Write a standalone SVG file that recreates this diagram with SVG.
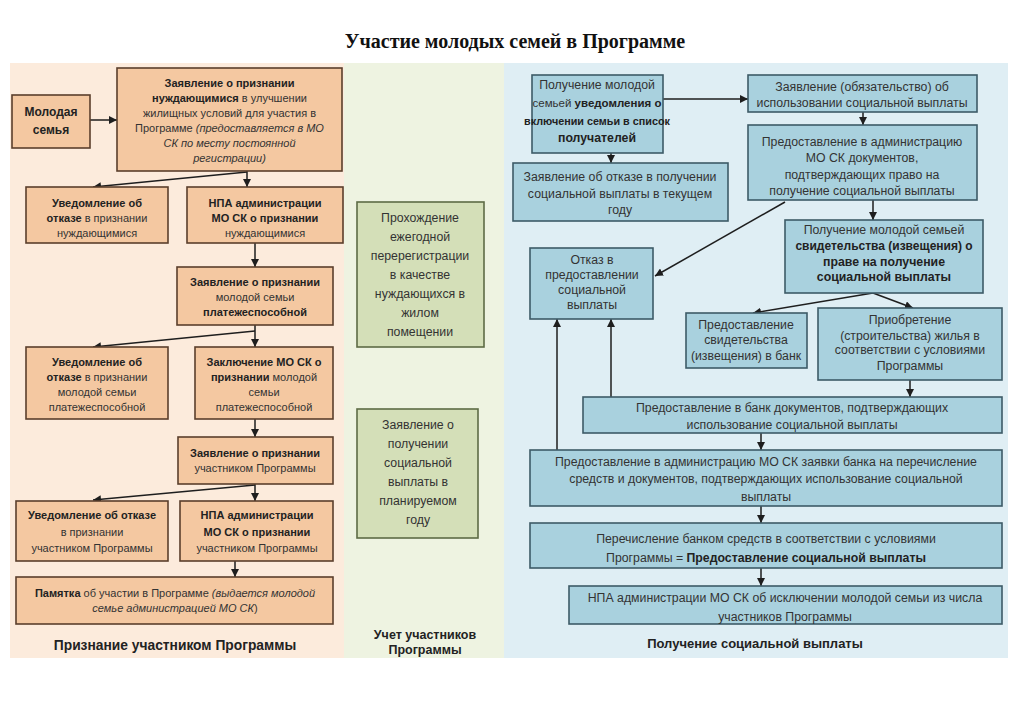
<svg xmlns="http://www.w3.org/2000/svg" width="1024" height="704" viewBox="0 0 1024 704">
<defs>
<marker id="ah" viewBox="0 0 10 10" refX="10" refY="5" markerWidth="8" markerHeight="8" markerUnits="userSpaceOnUse" orient="auto">
<path d="M0,0 L10,5 L0,10 z" fill="#1e1e1e"/>
</marker>
<style>
.t{font-family:"Liberation Sans",Arial,sans-serif;fill:#333;text-anchor:middle}
.l{font-size:11px}
.r{font-size:12.3px}
.g{font-size:12.3px}
.b{font-weight:bold;fill:#222}
.i{font-style:italic}
.pb{fill:#f4c8a1;stroke:#5a3f2c;stroke-width:1.6}
.gb{fill:#d4dfb8;stroke:#5d6b45;stroke-width:1.6}
.bb{fill:#a9d1de;stroke:#3d5b67;stroke-width:1.6}
.c{fill:none;stroke:#1e1e1e;stroke-width:1.5;marker-end:url(#ah)}
.h{font-size:13px;font-weight:bold;fill:#222}
</style>
</defs>
<rect width="1024" height="704" fill="#ffffff"/>
<text x="515" y="48" style="font-family:'Liberation Serif','Times New Roman',serif;font-size:20px;font-weight:bold;text-anchor:middle;fill:#111">Участие молодых семей в Программе</text>

<rect x="10" y="63" width="334" height="595" fill="#fcebdc"/>
<rect x="344" y="63" width="160" height="595" fill="#eef3e1"/>
<rect x="504" y="63" width="504" height="595" fill="#dfeef4"/>

<g id="connectors">
<path class="c" d="M90,120 L117,120"/>
<path class="c" d="M247,171 L247,187"/>
<path class="c" d="M247,172 L93,187"/>
<path class="c" d="M255,243 L255,267"/>
<path class="c" d="M255,325 L255,347"/>
<path class="c" d="M255,331 L93,347"/>
<path class="c" d="M255,419 L255,437"/>
<path class="c" d="M255,484 L255,501"/>
<path class="c" d="M255,485 L93,500"/>
<path class="c" d="M235,561 L235,577"/>
<path class="c" d="M663,99 L748,99"/>
<path class="c" d="M611,153 L611,163"/>
<path class="c" d="M863,112 L863,125"/>
<path class="c" d="M873,200 L873,220"/>
<path class="c" d="M785,202 L655,276"/>
<path class="c" d="M873,293 L753,313"/>
<path class="c" d="M873,293 L913,308"/>
<path class="c" d="M910,380 L910,397"/>
<path class="c" d="M557,450 L557,319"/>
<path class="c" d="M611,397 L611,319"/>
<path class="c" d="M761,433 L761,450"/>
<path class="c" d="M761,506 L761,523"/>
<path class="c" d="M761,568 L761,586"/>
</g>

<g id="n_family">
<rect class="pb" x="12" y="95" width="78" height="53"/>
<text class="t l b" style="font-size:12px"><tspan x="51" y="116">Молодая</tspan><tspan x="51" y="134">семья</tspan></text>
</g>
<g id="n_zayav1">
<rect class="pb" x="117" y="68" width="225" height="103"/>
<text class="t l"><tspan x="229.5" y="87" class="b">Заявление о признании</tspan><tspan x="229.5" y="102"><tspan class="b">нуждающимися</tspan> в улучшении</tspan><tspan x="229.5" y="117">жилищных условий для участия в</tspan><tspan x="229.5" y="132">Программе <tspan class="i">(предоставляется в МО</tspan></tspan><tspan x="229.5" y="147" class="i">СК по месту постоянной</tspan><tspan x="229.5" y="162" class="i">регистрации)</tspan></text>
</g>
<g id="n_otkaz1">
<rect class="pb" x="26" y="187" width="142" height="56"/>
<text class="t l"><tspan x="97" y="207" class="b">Уведомление об</tspan><tspan x="97" y="222"><tspan class="b">отказе</tspan> в признании</tspan><tspan x="97" y="237">нуждающимися</tspan></text>
</g>
<g id="n_npa1">
<rect class="pb" x="187" y="187" width="156" height="56"/>
<text class="t l"><tspan x="265" y="207" class="b">НПА администрации</tspan><tspan x="265" y="222" class="b">МО СК о признании</tspan><tspan x="265" y="237">нуждающимися</tspan></text>
</g>
<g id="n_zayav2">
<rect class="pb" x="177" y="267" width="156" height="58"/>
<text class="t l"><tspan x="255" y="286" class="b">Заявление о признании</tspan><tspan x="255" y="301">молодой семьи</tspan><tspan x="255" y="316" class="b">платежеспособной</tspan></text>
</g>
<g id="n_otkaz2">
<rect class="pb" x="26" y="347" width="142" height="72"/>
<text class="t l"><tspan x="97" y="366" class="b">Уведомление об</tspan><tspan x="97" y="381"><tspan class="b">отказе</tspan> в признании</tspan><tspan x="97" y="396">молодой семьи</tspan><tspan x="97" y="411">платежеспособной</tspan></text>
</g>
<g id="n_zakl">
<rect class="pb" x="195" y="347" width="138" height="72"/>
<text class="t l"><tspan x="264" y="366" class="b">Заключение МО СК о</tspan><tspan x="264" y="381"><tspan class="b">признании</tspan> молодой</tspan><tspan x="264" y="396">семьи</tspan><tspan x="264" y="411">платежеспособной</tspan></text>
</g>
<g id="n_zayav3">
<rect class="pb" x="178" y="437" width="155" height="47"/>
<text class="t l"><tspan x="255" y="457" class="b">Заявление о признании</tspan><tspan x="255" y="472">участником Программы</tspan></text>
</g>
<g id="n_otkaz3">
<rect class="pb" x="16" y="501" width="152" height="60"/>
<text class="t l"><tspan x="92" y="519" class="b">Уведомление об отказе</tspan><tspan x="92" y="536">в признании</tspan><tspan x="92" y="552">участником Программы</tspan></text>
</g>
<g id="n_npa3">
<rect class="pb" x="180" y="501" width="153" height="60"/>
<text class="t l"><tspan x="257" y="519" class="b">НПА администрации</tspan><tspan x="257" y="536" class="b">МО СК о признании</tspan><tspan x="257" y="552">участником Программы</tspan></text>
</g>
<g id="n_pamyatka">
<rect class="pb" x="16" y="577" width="317" height="47"/>
<text class="t l"><tspan x="175" y="597"><tspan class="b">Памятка</tspan> об участии в Программе <tspan class="i">(выдается молодой</tspan></tspan><tspan x="175" y="612"><tspan class="i">семье администрацией МО СК</tspan>)</tspan></text>
</g>
<text class="t h" x="175" y="650" style="font-size:13.8px">Признание участником Программы</text>

<g id="n_pereg">
<rect class="gb" x="357" y="202" width="127" height="145"/>
<text class="t g"><tspan x="420" y="222">Прохождение</tspan><tspan x="420" y="241">ежегодной</tspan><tspan x="420" y="260">перерегистрации</tspan><tspan x="420" y="279">в качестве</tspan><tspan x="420" y="298">нуждающихся в</tspan><tspan x="420" y="317">жилом</tspan><tspan x="420" y="336">помещении</tspan></text>
</g>
<g id="n_plan">
<rect class="gb" x="357" y="409" width="121" height="129"/>
<text class="t g"><tspan x="418" y="429">Заявление о</tspan><tspan x="418" y="448">получении</tspan><tspan x="418" y="467">социальной</tspan><tspan x="418" y="486">выплаты в</tspan><tspan x="418" y="505">планируемом</tspan><tspan x="418" y="524">году</tspan></text>
</g>
<text class="t h" style="font-size:12.5px"><tspan x="425" y="639">Учет участников</tspan><tspan x="425" y="654">Программы</tspan></text>

<g id="n_uved">
<rect class="bb" x="532" y="75" width="131" height="78"/>
<text class="t r"><tspan x="597" y="89">Получение молодой</tspan><tspan x="597" y="107" style="font-size:11.5px">семьей <tspan class="b">уведомления о</tspan></tspan><tspan x="597" y="125" class="b" style="font-size:10.8px">включении семьи в список</tspan><tspan x="597" y="142" class="b">получателей</tspan></text>
</g>
<g id="n_obyaz">
<rect class="bb" x="748" y="75" width="229" height="37"/>
<text class="t r"><tspan x="862" y="91">Заявление (обязательство) об</tspan><tspan x="862" y="107">использовании социальной выплаты</tspan></text>
</g>
<g id="n_otkaz_tek">
<rect class="bb" x="513" y="163" width="215" height="58"/>
<text class="t r"><tspan x="620" y="181">Заявление об отказе в получении</tspan><tspan x="620" y="198">социальной выплаты в текущем</tspan><tspan x="620" y="214">году</tspan></text>
</g>
<g id="n_docs">
<rect class="bb" x="748" y="125" width="229" height="75"/>
<text class="t r"><tspan x="862" y="146">Предоставление в администрацию</tspan><tspan x="862" y="162">МО СК документов,</tspan><tspan x="862" y="179">подтверждающих право на</tspan><tspan x="862" y="195">получение социальной выплаты</tspan></text>
</g>
<g id="n_svid">
<rect class="bb" x="785" y="220" width="198" height="73"/>
<text class="t r"><tspan x="884" y="234">Получение молодой семьей</tspan><tspan x="884" y="250" class="b" style="font-size:12px">свидетельства (извещения) о</tspan><tspan x="884" y="266" class="b">праве на получение</tspan><tspan x="884" y="281" class="b">социальной выплаты</tspan></text>
</g>
<g id="n_otkaz_pred">
<rect class="bb" x="530" y="248" width="123" height="71"/>
<text class="t r"><tspan x="592" y="264">Отказ в</tspan><tspan x="592" y="279">предоставлении</tspan><tspan x="592" y="294">социальной</tspan><tspan x="592" y="309">выплаты</tspan></text>
</g>
<g id="n_bank_svid">
<rect class="bb" x="686" y="313" width="121" height="55"/>
<text class="t r"><tspan x="746" y="329">Предоставление</tspan><tspan x="746" y="344">свидетельства</tspan><tspan x="746" y="360">(извещения) в банк</tspan></text>
</g>
<g id="n_priobr">
<rect class="bb" x="818" y="308" width="184" height="72"/>
<text class="t r"><tspan x="910" y="324">Приобретение</tspan><tspan x="910" y="340">(строительства) жилья в</tspan><tspan x="910" y="354">соответствии с условиями</tspan><tspan x="910" y="370">Программы</tspan></text>
</g>
<g id="n_bank_docs">
<rect class="bb" x="583" y="397" width="419" height="36"/>
<text class="t r"><tspan x="792" y="412">Предоставление в банк документов, подтверждающих</tspan><tspan x="792" y="429">использование социальной выплаты</tspan></text>
</g>
<g id="n_zayavka">
<rect class="bb" x="530" y="450" width="472" height="56"/>
<text class="t r"><tspan x="766" y="466">Предоставление в администрацию МО СК заявки банка на перечисление</tspan><tspan x="766" y="483">средств и документов, подтверждающих использование социальной</tspan><tspan x="766" y="501">выплаты</tspan></text>
</g>
<g id="n_perech">
<rect class="bb" x="530" y="523" width="472" height="45"/>
<text class="t r"><tspan x="766" y="543">Перечисление банком средств в соответствии с условиями</tspan><tspan x="766" y="562">Программы = <tspan class="b">Предоставление социальной выплаты</tspan></tspan></text>
</g>
<g id="n_npa_iskl">
<rect class="bb" x="569" y="586" width="433" height="38"/>
<text class="t r"><tspan x="785" y="602">НПА администрации МО СК об исключении молодой семьи из числа</tspan><tspan x="785" y="621">участников Программы</tspan></text>
</g>
<text class="t h" x="755" y="648">Получение социальной выплаты</text>
</svg>
